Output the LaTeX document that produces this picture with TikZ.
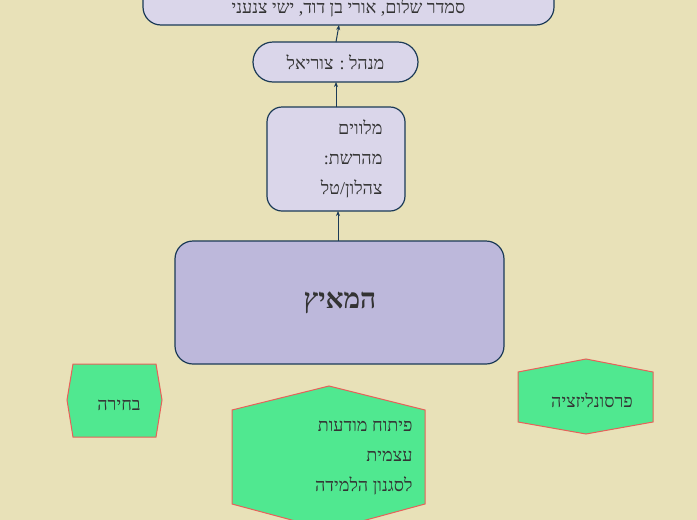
\documentclass[tikz,border=0pt]{standalone}
\usepackage{fontspec}
\usetikzlibrary{arrows.meta}
\TeXXeTstate=1
\newfontfamily\heb[Script=Hebrew]{Liberation Serif}
\definecolor{bg}{HTML}{E8E1B8}
\definecolor{lav}{HTML}{DAD6EA}
\definecolor{mainc}{HTML}{BDB8DB}
\definecolor{edge}{HTML}{1B3A57}
\definecolor{grn}{HTML}{50E890}
\definecolor{red}{HTML}{E8605A}
\tikzset{
  lbox/.style={draw=edge,line width=1.2pt,fill=lav},
  hexa/.style={draw=red,line width=1pt,fill=grn},
  conn/.style={draw=edge,line width=1pt,-{Stealth[length=5pt,width=4pt]}},
  txt/.style={font=\heb\fontsize{18}{30}\selectfont,text=black!80,align=right}
}
\begin{document}
\begin{tikzpicture}[x=1pt,y=-1pt]
\useasboundingbox (0,0) rectangle (697,520);
\clip (0,0) rectangle (697,520);
\fill[bg] (0,0) rectangle (697,520);
% boxes
\draw[lbox,rounded corners=18pt] (143,-40) rectangle (554,25);
\node[txt] (top) at (348.5,8) {\beginR סמדר שלום, אורי בן דוד, ישי צנעני\endR};
\coordinate (topb) at (339,25);
\draw[lbox,rounded corners=20pt] (253,42) rectangle (418,82);
\node[txt] (mgr) at (335.5,62) {\beginR מנהל : צוריאל\endR};
\coordinate (mgrt) at (336,42);
\coordinate (mgrb) at (336,82);
\draw[lbox,rounded corners=15pt] (267,107) rectangle (405,211);
\node[txt,anchor=east] (acc) at (386,159) {\beginR מלווים\endR\\\beginR מהרשת:\endR\\\beginR צהלון/טל\endR};
\coordinate (acct) at (336,107);
\coordinate (accb) at (338,211);
\draw[lbox,fill=mainc,rounded corners=18pt] (175,241) rectangle (504,364);
\node[txt,font=\heb\bfseries\fontsize{28}{32}\selectfont] (main) at (340,303) {\beginR המאיץ\endR};
\coordinate (maint) at (338,241);
\draw[conn] (maint) -- (accb);
\draw[conn] (acct) -- (mgrb);
\draw[conn] (mgrt) -- (topb);
% hexagons
\draw[hexa] (73,364) -- (156,364) -- (162,400) -- (156,437) -- (73,437) -- (67,400) -- cycle;
\node[txt] (bech) at (119,405) {\beginR בחירה\endR};
\draw[hexa] (232,410) -- (329,386) -- (425,410) -- (425,504) -- (329,530) -- (232,504) -- cycle;
\node[txt,anchor=east] (pit) at (416,458) {\beginR פיתוח מודעות\endR\\\beginR עצמית\endR\\\beginR לסגנון הלמידה\endR};
\draw[hexa] (518,372) -- (586,359) -- (653,372) -- (653,422) -- (586,434) -- (518,422) -- cycle;
\node[txt] (pers) at (592,400) {\beginR פרסונליזציה\endR};
\end{tikzpicture}
\end{document}
